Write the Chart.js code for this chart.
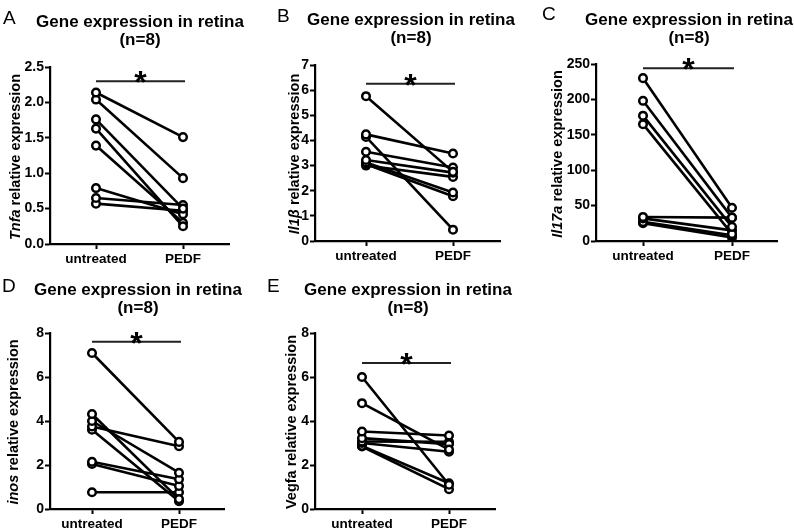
<!DOCTYPE html>
<html>
<head>
<meta charset="utf-8">
<script src="https://cdn.jsdelivr.net/npm/chart.js@4.4.1/dist/chart.umd.min.js"></script>
<style>
  body { margin: 0; background: #fff; overflow: hidden; }
  #fig { position: relative; width: 794px; height: 532px; font-family: 'Liberation Sans', Arial, sans-serif; }
  #fig canvas { position: absolute; }
  .ylab { position: absolute; font-weight: bold; font-size: 14.5px; white-space: nowrap; color: #000;
          transform: translate(-50%, -50%) rotate(-90deg); }
  .letter { position: absolute; font-size: 19px; color: #000; line-height: 1; }
</style>
</head>
<body>
<div id="fig"></div>
<script>
// x groups
var groups = ['untreated', 'PEDF'];

// A - Tnfa
var tnfaUntreated = [2.14, 2.04, 1.76, 1.63, 1.39, 0.79, 0.65, 0.57];
var tnfaPEDF      = [1.51, 0.93, 0.50, 0.25, 0.30, 0.42, 0.55, 0.47];
// B - Il1b
var il1bUntreated = [5.76, 4.24, 4.14, 3.55, 3.22, 3.12, 3.05, 3.00];
var il1bPEDF      = [2.75, 3.48, 0.45, 2.92, 2.72, 1.93, 1.78, 2.55];
// C - Il17a
var il17aUntreated = [230, 198, 177, 165, 34, 32, 27, 25];
var il17aPEDF      = [47, 33, 20, 10, 33, 15, 8, 5];
// D - inos
var inosUntreated = [7.09, 4.32, 4.00, 3.75, 3.60, 2.15, 2.05, 0.76];
var inosPEDF      = [3.05, 0.45, 1.65, 2.85, 0.35, 1.35, 1.05, 0.76];
// E - Vegfa
var vegfaUntreated = [6.00, 4.81, 3.52, 3.22, 3.07, 3.00, 2.87, 2.84];
var vegfaPEDF      = [1.10, 2.70, 3.34, 2.95, 3.05, 2.60, 1.17, 0.90];

var titleLines = ['Gene expression in retina', '(n=8)'];

// panel layout (pixels) - canvas box, chart area edges, axis ranges
var panels = [
  { letter: 'A', gene: 'Tnfa', italic: true, u: tnfaUntreated, p: tnfaPEDF, yMax: 2.5, yStep: 0.5, dec: 1, sig: 2.3,
    left: 15, top: 0, width: 250, line1: 22, chartTop: 67, chartBottom: 244, axL: 50, axR: 229, xU: 96, xP: 183,
    lab: [15, 157], let: [3, 8] },
  { letter: 'B', gene: 'Il1\u03b2', italic: true, u: il1bUntreated, p: il1bPEDF, yMax: 7, yStep: 1, dec: 0, sig: 6.25,
    left: 286, top: 0, width: 250, line1: 20, chartTop: 65, chartBottom: 241, axL: 315, axR: 500, xU: 366, xP: 453,
    lab: [294, 154], let: [277, 6] },
  { letter: 'C', gene: 'Il17a', italic: true, u: il17aUntreated, p: il17aPEDF, yMax: 250, yStep: 50, dec: 0, sig: 244,
    left: 564, top: 0, width: 250, line1: 20, chartTop: 64, chartBottom: 241, axL: 596, axR: 777, xU: 643, xP: 732,
    lab: [557, 154], let: [542, 4] },
  { letter: 'D', gene: 'inos', italic: true, u: inosUntreated, p: inosPEDF, yMax: 8, yStep: 2, dec: 0, sig: 7.6,
    left: 13, top: 266, width: 250, line1: 290, chartTop: 333, chartBottom: 509, axL: 50, axR: 224, xU: 92, xP: 179,
    lab: [13, 422], let: [2, 276] },
  { letter: 'E', gene: 'Vegfa', italic: false, u: vegfaUntreated, p: vegfaPEDF, yMax: 8, yStep: 2, dec: 0, sig: 6.64,
    left: 283, top: 266, width: 250, line1: 290, chartTop: 333, chartBottom: 509, axL: 315, axR: 495, xU: 362, xP: 449,
    lab: [291, 422], let: [267, 276] }
];

var FONT = "'Liberation Sans', Arial, sans-serif";
Chart.defaults.font.family = FONT;
Chart.defaults.color = '#000';

var sigBar = {
  id: 'sigBar',
  afterDatasetsDraw: function(chart, args, opts) {
    var ctx = chart.ctx, xs = chart.scales.x, ys = chart.scales.y;
    var yy = ys.getPixelForValue(opts.level);
    var x0 = xs.getPixelForValue(0), x1 = xs.getPixelForValue(1) + 2;
    ctx.save();
    ctx.strokeStyle = '#222';
    ctx.lineWidth = 2;
    ctx.beginPath();
    ctx.moveTo(x0, yy);
    ctx.lineTo(x1, yy);
    ctx.stroke();
    ctx.fillStyle = '#000';
    ctx.font = 'bold 32px ' + FONT;
    ctx.textAlign = 'center';
    ctx.textBaseline = 'alphabetic';
    ctx.fillText('*', (x0 + x1) / 2, yy + 12);
    ctx.restore();
  }
};

var fig = document.getElementById('fig');
var TITLE_SIZE = 17, TITLE_LH = 1.1, X_AXIS_H = 30;

panels.forEach(function(pn) {
  var cv = document.createElement('canvas');
  var h = pn.chartBottom + X_AXIS_H - pn.top;
  cv.width = pn.width;
  cv.height = h;
  cv.style.left = pn.left + 'px';
  cv.style.top = pn.top + 'px';
  cv.style.width = pn.width + 'px';
  cv.style.height = h + 'px';
  fig.appendChild(cv);

  var lh = TITLE_SIZE * TITLE_LH;
  var padTop = pn.line1 - pn.top - lh / 2;
  var padBottom = pn.chartTop - pn.top - padTop - 2 * lh;
  var yW = pn.axL - pn.left;
  var rW = pn.left + pn.width - pn.axR;
  var pxPerUnit = pn.xP - pn.xU;
  var xMin = -(pn.xU - pn.axL) / pxPerUnit;
  var xMax = 1 + (pn.axR - pn.xP) / pxPerUnit;

  var datasets = pn.u.map(function(v, i) {
    return {
      data: [{ x: 0, y: v }, { x: 1, y: pn.p[i] }],
      borderColor: '#000',
      borderWidth: 2.6,
      pointRadius: 3.8,
      pointBorderWidth: 2.5,
      pointBackgroundColor: '#fff',
      pointBorderColor: '#000',
      tension: 0
    };
  });

  new Chart(cv, {
    type: 'line',
    data: { datasets: datasets },
    options: {
      responsive: false,
      animation: false,
      layout: { padding: 0 },
      plugins: {
        legend: { display: false },
        tooltip: { enabled: false },
        title: {
          display: true,
          text: titleLines,
          color: '#000',
          font: { size: TITLE_SIZE, weight: 'bold', lineHeight: TITLE_LH },
          padding: { top: padTop, bottom: padBottom }
        },
        sigBar: { level: pn.sig }
      },
      scales: {
        x: {
          type: 'linear',
          min: xMin,
          max: xMax,
          afterBuildTicks: function(s) { s.ticks = [{ value: 0 }, { value: 1 }]; },
          afterFit: function(s) { s.height = X_AXIS_H; },
          ticks: {
            callback: function(v) { return groups[v]; },
            font: { size: 13.5, weight: 'bold' },
            color: '#000',
            padding: 2,
            maxRotation: 0,
            autoSkip: false
          },
          grid: { drawOnChartArea: false, drawTicks: true, tickLength: 5, tickColor: '#000', tickWidth: 2 },
          border: { display: true, color: '#000', width: 2.2 }
        },
        y: {
          min: 0,
          max: pn.yMax,
          afterFit: function(s) { s.width = yW; },
          ticks: {
            stepSize: pn.yStep,
            callback: function(v) { return v.toFixed(pn.dec); },
            font: { size: 14, weight: 'bold' },
            color: '#000',
            padding: 1
          },
          grid: { drawOnChartArea: false, drawTicks: true, tickLength: 5, tickColor: '#000', tickWidth: 2 },
          border: { display: true, color: '#000', width: 2.2 }
        },
        yR: {
          type: 'linear',
          position: 'right',
          display: true,
          afterFit: function(s) { s.width = rW; },
          ticks: { display: false },
          grid: { display: false },
          border: { display: false }
        }
      }
    },
    plugins: [sigBar]
  });

  var lab = document.createElement('div');
  lab.className = 'ylab';
  lab.style.left = pn.lab[0] + 'px';
  lab.style.top = pn.lab[1] + 'px';
  lab.innerHTML = (pn.italic ? '<i>' + pn.gene + '</i>' : pn.gene) + ' relative expression';
  fig.appendChild(lab);

  var letter = document.createElement('div');
  letter.className = 'letter';
  letter.style.left = pn.let[0] + 'px';
  letter.style.top = pn.let[1] + 'px';
  letter.textContent = pn.letter;
  fig.appendChild(letter);
});
</script>
</body>
</html>
